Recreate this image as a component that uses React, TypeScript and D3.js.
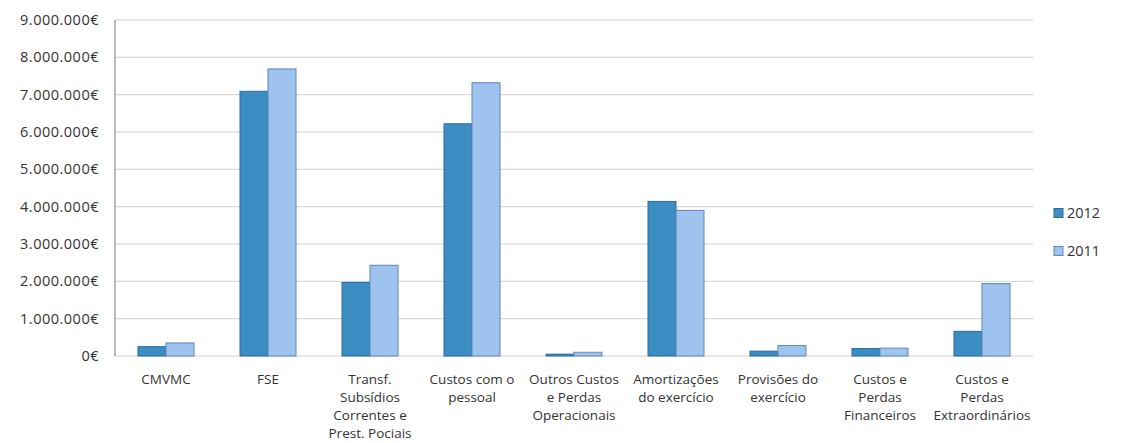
import React from "react";
import * as d3 from "d3";

const categories: string[][] = [
  ["CMVMC"],
  ["FSE"],
  ["Transf.", "Subsídios", "Correntes  e", "Prest. Pociais"],
  ["Custos com o", "pessoal"],
  ["Outros Custos", "e Perdas", "Operacionais"],
  ["Amortizações", "do exercício"],
  ["Provisões do", "exercício"],
  ["Custos e", "Perdas", "Financeiros"],
  ["Custos e", "Perdas", "Extraordinários"],
];

const values2012: number[] = [250000, 7090000, 1970000, 6220000, 50000, 4140000, 130000, 200000, 660000];
const values2011: number[] = [350000, 7690000, 2430000, 7320000, 100000, 3900000, 280000, 210000, 1940000];

const seriesNames = ["2012", "2011"];
const yTicks: number[] = [0, 1000000, 2000000, 3000000, 4000000, 5000000, 6000000, 7000000, 8000000, 9000000];

const W = 1129;
const H = 443;
const margin = { left: 115, right: 96, top: 20, bottom: 87 };

const fills = ["#3b8dc4", "#9dc3ee"];
const strokes = ["#2b6c9c", "#5f87b8"];

const fmt = (v: number) => {
  const s = d3.format(",")(v).replace(/,/g, ".");
  return s + "€";
};

export default function App() {
  const x = d3
    .scaleBand<number>()
    .domain(categories.map((_, i) => i))
    .range([margin.left, W - margin.right])
    .paddingInner(0)
    .paddingOuter(0);
  const y = d3.scaleLinear().domain([0, 9000000]).range([H - margin.bottom, margin.top]);
  const bw = 28;
  const font = "'Open Sans', 'Liberation Sans', sans-serif";

  return (
    <svg width={W} height={H} style={{ position: "absolute", left: 0, top: 0, background: "#fff" }}>
      {/* horizontal gridlines */}
      {yTicks.map((t) => (
        <line key={"g" + t} x1={margin.left} x2={W - margin.right} y1={y(t)} y2={y(t)} stroke="#d0d0d0" strokeWidth={1} />
      ))}
      {/* value axis */}
      <line x1={margin.left} x2={margin.left} y1={margin.top} y2={y(0)} stroke="#7a7a7a" strokeWidth={1} />
      {yTicks.map((t) => (
        <text key={"t" + t} x={99} y={y(t)} dy="0.35em" textAnchor="end" fontFamily={font} fontSize={14.5} letterSpacing={0.5} fill="#333">
          {fmt(t)}
        </text>
      ))}
      {/* bars */}
      {[values2012, values2011].map((vals, s) =>
        vals.map((v, i) => {
          const cx = (x(i) as number) + x.bandwidth() / 2;
          const bx = s === 0 ? cx - bw : cx;
          return (
            <rect
              key={s + "-" + i}
              x={bx}
              y={y(v)}
              width={bw}
              height={y(0) - y(v)}
              fill={fills[s]}
              stroke={strokes[s]}
              strokeWidth={1}
            />
          );
        })
      )}
      {/* category labels */}
      {categories.map((lines, i) => {
        const cx = (x(i) as number) + x.bandwidth() / 2;
        return (
          <text key={"c" + i} x={cx} y={384} textAnchor="middle" fontFamily={font} fontSize={13.5} fill="#333">
            {lines.map((l, k) => (
              <tspan key={k} x={cx} dy={k === 0 ? 0 : 18}>
                {l}
              </tspan>
            ))}
          </text>
        );
      })}
      {/* legend */}
      {seriesNames.map((n, s) => (
        <g key={n} transform={`translate(1054, ${213 + s * 38})`}>
          <rect x={0} y={-4.5} width={9} height={9} fill={fills[s]} stroke={strokes[s]} />
          <text x={13} y={0} dy="0.35em" fontFamily={font} fontSize={14.5} fill="#333">
            {n}
          </text>
        </g>
      ))}
    </svg>
  );
}
